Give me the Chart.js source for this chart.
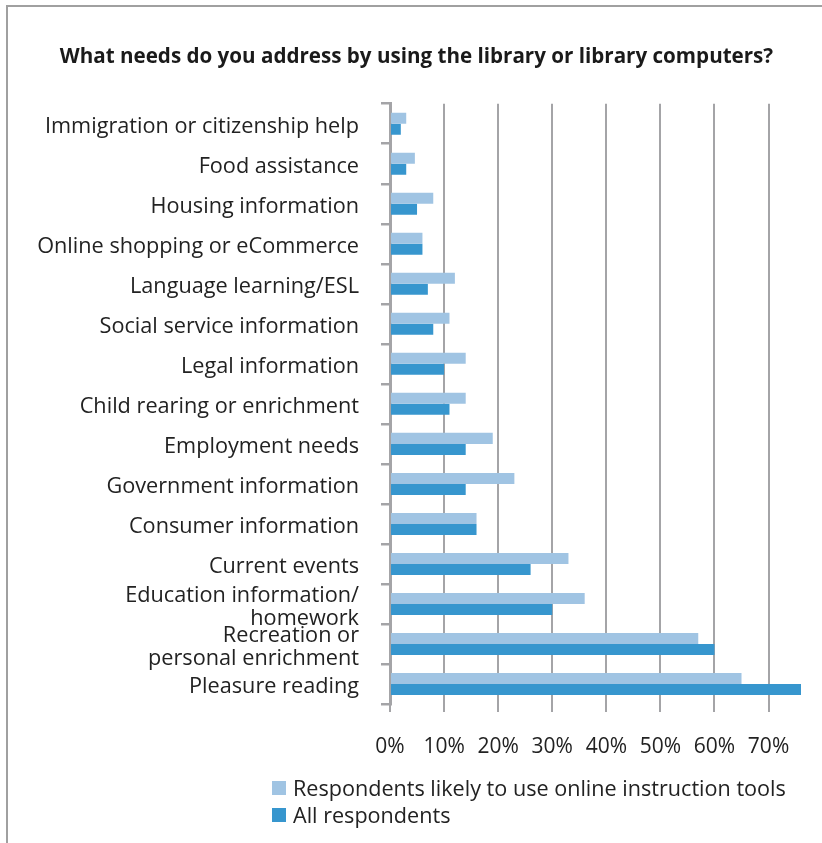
<!DOCTYPE html>
<html>
<head>
<meta charset="utf-8">
<script src="https://cdn.jsdelivr.net/npm/chart.js@4.4.0/dist/chart.umd.min.js"></script>
<style>
  body { margin: 0; background: #fff; }
  #wrap { position: relative; width: 822px; height: 843px; overflow: hidden; }
  #frame { position: absolute; left: 6px; top: 5px; width: 840px; height: 860px;
           border-top: 2px solid #a0a0a0; border-left: 2px solid #a0a0a0; }
  canvas { position: absolute; left: 0; top: 0; }
  #legend { position: absolute; left: 272px; top: 774px; font-family: 'Open Sans'; font-size: 21.6px; color: #222; }
  .item { display: flex; align-items: center; height: 27px; }
  .box { width: 14px; height: 14px; margin-right: 7px; }
</style>
</head>
<body>
<div id="wrap">
  <div id="frame"></div>
  <canvas id="needsChart" width="822" height="843"></canvas>
  <div id="legend"></div>
</div>
<script>
// data (percent of respondents)
const categories = [
  'Immigration or citizenship help',
  'Food assistance',
  'Housing information',
  'Online shopping or eCommerce',
  'Language learning/ESL',
  'Social service information',
  'Legal information',
  'Child rearing or enrichment',
  'Employment needs',
  'Government information',
  'Consumer information',
  'Current events',
  ['Education information/', 'homework'],
  ['Recreation or', 'personal enrichment'],
  'Pleasure reading'
];
const onlineTools = [3, 4.6, 8, 6, 12, 11, 14, 14, 19, 23, 16, 33, 36, 57, 65];
const allRespondents = [2, 3, 5, 6, 7, 8, 10, 11, 14, 14, 16, 26, 30, 60, 76];
const xTicks = [0, 10, 20, 30, 40, 50, 60, 70];

const seriesNames = ['Respondents likely to use online instruction tools', 'All respondents'];
const seriesColors = ['#a0c4e3', '#3796ce'];

const gridGray = '#a4a4a7';
const textColor = '#222';
const fontName = 'Open Sans';

const ctx = document.getElementById('needsChart');
const chart = new Chart(ctx, {
  type: 'bar',
  data: {
    labels: categories,
    datasets: [
      { label: seriesNames[0], data: onlineTools, backgroundColor: seriesColors[0] },
      { label: seriesNames[1], data: allRespondents, backgroundColor: seriesColors[1] }
    ]
  },
  options: {
    responsive: false,
    animation: false,
    indexAxis: 'y',
    categoryPercentage: 0.55,
    barPercentage: 1,
    // left padding only shifts the title centre; the y axis width makes up for it
    layout: { padding: { left: 32, right: 21, top: 0, bottom: 79 } },
    plugins: {
      legend: { display: false },
      tooltip: { enabled: false },
      title: {
        display: true,
        text: 'What needs do you address by using the library or library computers?',
        font: { family: fontName, size: 20.6, weight: 'bold', lineHeight: 1.2 },
        color: '#1a1a1a',
        padding: { top: 45, bottom: 34 }
      }
    },
    scales: {
      x: {
        min: 0,
        max: 76,
        afterBuildTicks: function(scale) {
          scale.ticks = xTicks.map(v => ({ value: v }));
        },
        afterFit: function(scale) { scale.height = 60; },
        ticks: {
          callback: v => v + '%',
          font: { family: fontName, size: 21 },
          color: textColor,
          padding: 22
        },
        grid: { color: gridGray, lineWidth: 2, tickLength: 8 },
        border: { display: false }
      },
      y: {
        afterFit: function(scale) { scale.width = 358; },
        ticks: {
          autoSkip: false,
          font: { family: fontName, size: 21.7, lineHeight: 1.05 },
          color: textColor,
          padding: 22,
          labelOffset: 3
        },
        grid: { drawOnChartArea: false, color: gridGray, lineWidth: 2.5, tickLength: 9, offset: true },
        border: { color: gridGray, width: 3 }
      }
    }
  }
});

// legend as a vertical list, like the original
const legend = document.getElementById('legend');
chart.data.datasets.forEach(function(ds) {
  const row = document.createElement('div');
  row.className = 'item';
  row.innerHTML = '<span class="box" style="background:' + ds.backgroundColor + '"></span>' + ds.label;
  legend.appendChild(row);
});
</script>
</body>
</html>
